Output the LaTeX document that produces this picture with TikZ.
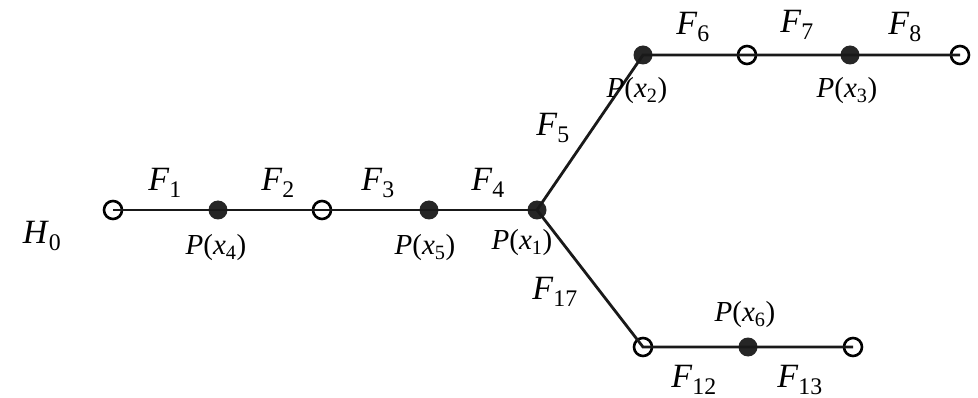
\documentclass[tikz,border=0pt]{standalone}
\usepackage{fontspec}
\setmainfont{Liberation Serif}
\tikzset{
  opennode/.style={circle,draw=black,line width=2.6pt,minimum size=18pt,inner sep=0pt},
  dotnode/.style={circle,fill=black!85,minimum size=19pt,inner sep=0pt},
  edgeline/.style={line width=2.8pt,black!90},
  flabel/.style={font=\fontsize{34}{38}\selectfont,inner sep=0pt},
  plabel/.style={font=\fontsize{29}{32}\selectfont,inner sep=0pt}
}
\newcommand{\Fl}[1]{\textit{F}\textsubscript{#1}}
\newcommand{\Pl}[1]{\textit{P}(\textit{x}\textsubscript{#1})}
\begin{document}
\begin{tikzpicture}[x=1pt,y=-1pt]
\useasboundingbox (0,0) rectangle (978,398);
% vertices
\node[opennode] (h) at (113,210) {};
\node[dotnode] (p4) at (218,210) {};
\node[opennode] (o2) at (322,210) {};
\node[dotnode] (p5) at (429,210) {};
\node[dotnode] (p1) at (537,210) {};
\node[dotnode] (p2) at (643,55) {};
\node[opennode] (o6) at (747,55) {};
\node[dotnode] (p3) at (850,55) {};
\node[opennode] (o8) at (960,55) {};
\node[opennode] (o12) at (643,347) {};
\node[dotnode] (p6) at (748,347) {};
\node[opennode] (o13) at (853,347) {};
% edges
\draw[edgeline] (h.center) -- (p4.center) -- (o2.center) -- (p5.center) -- (p1.center);
\draw[edgeline] (p1.center) -- (p2.center) -- (o6.center) -- (p3.center) -- (o8.center);
\draw[edgeline] (p1.center) -- (o12.center) -- (p6.center) -- (o13.center);
% labels
\node[flabel] (lh) at (42,236) {\textit{H}\textsubscript{0}};
\node[flabel] (l1) at (165,183) {\Fl{1}};
\node[flabel] (l2) at (278,183) {\Fl{2}};
\node[flabel] (l3) at (378,183) {\Fl{3}};
\node[flabel] (l4) at (488,183) {\Fl{4}};
\node[flabel] (l5) at (553,128) {\Fl{5}};
\node[flabel] (l6) at (693,27) {\Fl{6}};
\node[flabel] (l7) at (797,25) {\Fl{7}};
\node[flabel] (l8) at (905,27) {\Fl{8}};
\node[flabel] (l17) at (555,292) {\Fl{17}};
\node[flabel] (l12) at (694,380) {\Fl{12}};
\node[flabel] (l13) at (800,380) {\Fl{13}};
\node[plabel] (q4) at (216,248) {\Pl{4}};
\node[plabel] (q5) at (425,248) {\Pl{5}};
\node[plabel] (q1) at (522,243) {\Pl{1}};
\node[plabel] (q2) at (637,91) {\Pl{2}};
\node[plabel] (q3) at (847,91) {\Pl{3}};
\node[plabel] (q6) at (745,315) {\Pl{6}};
\end{tikzpicture}
\end{document}
